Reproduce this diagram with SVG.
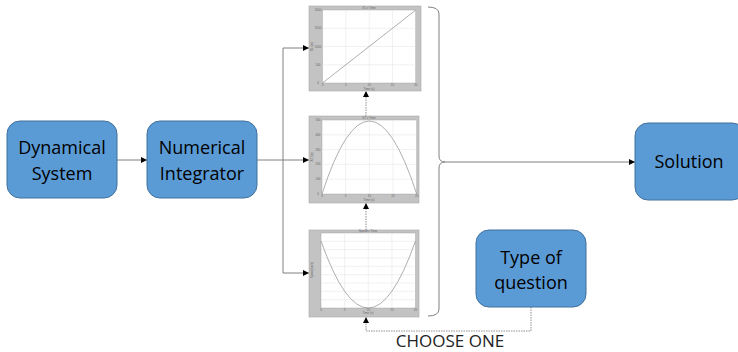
<svg xmlns="http://www.w3.org/2000/svg" width="738" height="352" viewBox="0 0 738 352">
<defs>
<marker id="ah" viewBox="0 0 10 10" refX="10" refY="5" markerWidth="6" markerHeight="6" orient="auto" markerUnits="userSpaceOnUse"><path d="M0,0 L10,5 L0,10 z" fill="#000"/></marker>
<style>
.box{fill:#5B9BD5;stroke:#41719C;stroke-width:1}
.lbl{font-family:"Open Sans","Noto Sans",sans-serif;font-size:18px;fill:#000;text-anchor:middle}
.con{fill:none;stroke:#808080;stroke-width:1}
.dot{fill:none;stroke:#909090;stroke-width:1;stroke-dasharray:1.5,1}
.frame{fill:#c3c3c3;stroke:#a8a8a8;stroke-width:0.6}
.area{fill:#fff;stroke:#999;stroke-width:0.4}
.grid{stroke:#e3e3e3;stroke-width:0.5;fill:none}
.curve{fill:none;stroke:#9a9a9a;stroke-width:0.8}
.tiny{font-family:"Liberation Sans",sans-serif;font-size:3px;fill:#666;text-anchor:middle}
</style>
</defs>

<g id="connectors">
<line class="con" x1="117" y1="160" x2="147" y2="160" marker-end="url(#ah)"/>
<line class="con" x1="257" y1="160" x2="309" y2="160" marker-end="url(#ah)"/>
<line class="con" x1="283" y1="48" x2="283" y2="273"/>
<line class="con" x1="283" y1="48" x2="309" y2="48" marker-end="url(#ah)"/>
<line class="con" x1="283" y1="273" x2="309" y2="273" marker-end="url(#ah)"/>
<line class="dot" x1="366" y1="230" x2="366" y2="203" marker-end="url(#ah)"/>
<line class="dot" x1="366" y1="116" x2="366" y2="91" marker-end="url(#ah)"/>
<path class="dot" d="M531,307 V331 H366 V317" marker-end="url(#ah)"/>
<path class="con" d="M428,7 Q439,7 439,14 V156 Q439,162 445,162 Q439,162 439,168 V309 Q439,316 428,316"/>
<line class="con" x1="445" y1="162" x2="635" y2="162" marker-end="url(#ah)"/>
</g>

<g id="dynamical-system">
<rect class="box" x="7" y="121" width="110" height="77" rx="13"/>
<text class="lbl" x="62" y="154">Dynamical</text>
<text class="lbl" x="62" y="180">System</text>
</g>

<g id="numerical-integrator">
<rect class="box" x="147" y="121" width="110" height="77" rx="13"/>
<text class="lbl" x="202" y="154">Numerical</text>
<text class="lbl" x="202" y="180">Integrator</text>
</g>

<g id="plot-x1">
<rect class="frame" x="309" y="6" width="112" height="85"/>
<rect class="area" x="322.5" y="10" width="93.3" height="73"/>
<path class="grid" d="M345.8,10V83M369.2,10V83M392.5,10V83M322.5,28.3H415.8M322.5,46.5H415.8M322.5,64.8H415.8"/>
<line class="curve" x1="322.5" y1="83" x2="415.8" y2="10"/>
<text class="tiny" x="369" y="9">X1 v Time</text>
<text class="tiny" x="369" y="90">Time (s)</text>
<text class="tiny" transform="translate(313,46.5) rotate(-90)">X1 (m)</text>
<text class="tiny" x="322.5" y="86">0</text><text class="tiny" x="345.8" y="86">5</text><text class="tiny" x="369.2" y="86">10</text><text class="tiny" x="392.5" y="86">15</text><text class="tiny" x="415.8" y="86">20</text>
<text class="tiny" x="318" y="84">0</text><text class="tiny" x="318" y="65.8">500</text><text class="tiny" x="318" y="47.5">1000</text><text class="tiny" x="318" y="29.3">1500</text><text class="tiny" x="318" y="11">2000</text>
</g>

<g id="plot-x2">
<rect class="frame" x="309" y="116" width="110" height="87"/>
<rect class="area" x="322" y="120" width="94.7" height="74"/>
<path class="grid" d="M345.7,120V194M369.3,120V194M393,120V194M322,134.8H416.7M322,149.6H416.7M322,164.4H416.7M322,179.2H416.7"/>
<path class="curve" d="M322,194 Q369.3,48 416.7,194"/>
<text class="tiny" x="369" y="119">X2 v Time</text>
<text class="tiny" x="369" y="201">Time (s)</text>
<text class="tiny" transform="translate(313,157) rotate(-90)">X2 (m)</text>
<text class="tiny" x="322" y="197">0</text><text class="tiny" x="345.7" y="197">5</text><text class="tiny" x="369.3" y="197">10</text><text class="tiny" x="393" y="197">15</text><text class="tiny" x="416.7" y="197">20</text>
<text class="tiny" x="318" y="195">0</text><text class="tiny" x="318" y="180.2">100</text><text class="tiny" x="318" y="165.4">200</text><text class="tiny" x="318" y="150.6">300</text><text class="tiny" x="318" y="135.8">400</text><text class="tiny" x="318" y="121">500</text>
</g>

<g id="plot-speed">
<rect class="frame" x="309" y="230" width="110" height="87"/>
<rect class="area" x="321" y="233" width="94.5" height="75"/>
<path class="grid" d="M344.6,233V308M368.3,233V308M391.9,233V308M321,241.3H415.5M321,249.7H415.5M321,258H415.5M321,266.3H415.5M321,274.7H415.5M321,283H415.5M321,291.3H415.5M321,299.7H415.5"/>
<path class="curve" d="M321,241 Q368.3,375 415.5,241"/>
<text class="tiny" x="368" y="232">Speed v Time</text>
<text class="tiny" x="368" y="314">Time (s)</text>
<text class="tiny" transform="translate(313,270) rotate(-90)">Speed (m/s)</text>
<text class="tiny" x="321" y="311">0</text><text class="tiny" x="344.6" y="311">5</text><text class="tiny" x="368.3" y="311">10</text><text class="tiny" x="391.9" y="311">15</text><text class="tiny" x="415.5" y="311">20</text>
</g>

<g id="solution">
<rect class="box" x="635" y="123" width="110" height="77" rx="13"/>
<text class="lbl" x="689" y="168">Solution</text>
</g>

<g id="type-of-question">
<rect class="box" x="476" y="230" width="110" height="77" rx="13"/>
<text class="lbl" x="531" y="264">Type of</text>
<text class="lbl" x="531" y="289">question</text>
</g>

<text x="450" y="347" style="font-family:'Open Sans','Noto Sans',sans-serif;font-size:17px;fill:#222;text-anchor:middle">CHOOSE ONE</text>
</svg>
